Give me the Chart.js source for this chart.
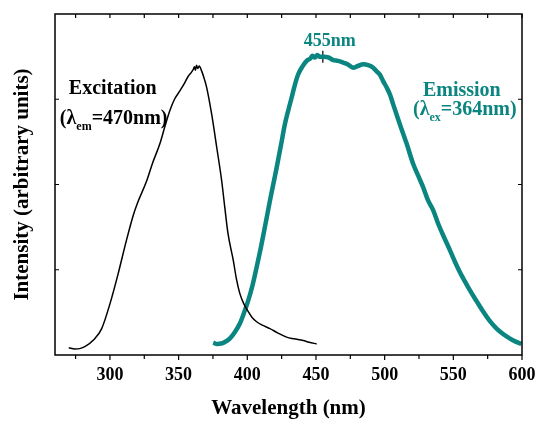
<!DOCTYPE html>
<html lang="en">
<head>
    <meta charset="UTF-8">
    <title>Excitation / Emission spectra</title>
    <script src="https://cdn.jsdelivr.net/npm/chart.js"></script>
    <style>
        html, body {
            margin: 0;
            padding: 0;
            background: #ffffff;
        }
        .wrap {
            width: 539px;
            height: 421px;
        }
    </style>
</head>
<body>

<div class="wrap">
    <canvas id="spectra" width="539" height="421"></canvas>
</div>

<script>
    // Excitation spectrum (black)
    const excitationNm = [270, 274.5, 278, 282, 288, 294, 300, 306, 312, 317, 320, 326.7, 331, 336.4, 340, 343.7,
        347, 351, 354, 357, 359, 360.7, 361.5, 362.3, 363, 364, 365, 366.8, 368.5, 370.4, 374, 377.7, 381.3,
        383.7, 386, 389.8, 392, 394.6, 397.5, 400.7, 403.5, 406.8, 411, 416.5, 422, 428.6, 434, 440.7, 445, 450.5];
    const excitationY = [0.085, 0.07, 0.075, 0.10, 0.175, 0.31, 0.60, 0.955, 1.345, 1.64, 1.78, 2.04, 2.25, 2.48, 2.68, 2.87,
        3.00, 3.10, 3.18, 3.27, 3.31, 3.35, 3.38, 3.34, 3.40, 3.36, 3.39, 3.33, 3.25, 3.14, 2.83, 2.44, 2.05,
        1.72, 1.42, 1.11, 0.90, 0.72, 0.60, 0.51, 0.44, 0.39, 0.35, 0.31, 0.26, 0.21, 0.19, 0.17, 0.15, 0.13];

    // Emission spectrum (teal)
    const emissionNm = [375.2, 378, 381, 384, 387.4, 391, 394.6, 397.5, 400.7, 404, 406.8, 410, 412.8, 416.5, 418.5,
        421.4, 424.5, 427.4, 430, 432.3, 434.5, 437, 440, 443.2, 446, 447.5, 449.2, 451, 452.5, 455.8, 459, 462.6,
        466, 469.8, 473, 477.1, 480.5, 484.4, 488, 491.7, 494, 496.5, 499, 501.4, 504, 506.2, 508.5, 511, 516,
        520.8, 524.5, 528, 531.7, 535.3, 539, 543, 547.5, 551, 554.8, 558.5, 562, 567, 571.7, 576.5, 581.5,
        586, 591, 595, 599.6];
    const emissionY = [0.144, 0.13, 0.135, 0.155, 0.195, 0.27, 0.37, 0.49, 0.64, 0.83, 1.03, 1.27, 1.50, 1.81, 1.97,
        2.20, 2.46, 2.71, 2.88, 3.02, 3.16, 3.29, 3.38, 3.45, 3.48, 3.51, 3.49, 3.52, 3.50, 3.50, 3.49, 3.46,
        3.45, 3.43, 3.41, 3.37, 3.39, 3.41, 3.40, 3.37, 3.33, 3.29, 3.21, 3.14, 3.05, 2.94, 2.83, 2.71, 2.48,
        2.24, 2.10, 1.97, 1.81, 1.70, 1.54, 1.39, 1.23, 1.10, 0.97, 0.86, 0.76, 0.63, 0.51, 0.40, 0.31,
        0.25, 0.195, 0.16, 0.13];

    // peak marker
    const peakNm = [455];
    const peakY = [3.50];

    const xTicksMajor = [300, 350, 400, 450, 500, 550, 600];
    const yTicks = [1, 2, 3];

    const SERIF = '"Liberation Serif", "Times New Roman", serif';
    const TEAL = '#0b8580';

    function toPoints(xs, ys) {
        return xs.map((x, i) => ({ x: x, y: ys[i] }));
    }

    // frame, tick marks and the in-plot labels
    const framePlugin = {
        id: 'frame',
        afterDatasetsDraw(chart) {
            const ctx = chart.ctx;
            const a = chart.chartArea;
            const xs = chart.scales.x;
            const ys = chart.scales.y;

            ctx.save();
            ctx.strokeStyle = '#000';
            ctx.lineWidth = 1.5;
            ctx.strokeRect(a.left, a.top, a.right - a.left, a.bottom - a.top);

            ctx.lineWidth = 1.2;
            ctx.beginPath();
            for (let v = 275; v <= 600; v += 25) {
                const px = xs.getPixelForValue(v);
                // bottom ticks point outward
                ctx.moveTo(px, a.bottom);
                ctx.lineTo(px, a.bottom + (v % 50 === 0 ? 5 : 4));
                // top ticks point inward
                ctx.moveTo(px, a.top);
                ctx.lineTo(px, a.top + 4);
            }
            yTicks.forEach(v => {
                const py = ys.getPixelForValue(v);
                ctx.moveTo(a.left, py);
                ctx.lineTo(a.left + 4, py);
                ctx.moveTo(a.right, py);
                ctx.lineTo(a.right - 4, py);
            });
            ctx.stroke();

            // text labels, anchored in data units
            function subLabel(parts, cx, baseY, color) {
                ctx.fillStyle = color;
                ctx.textBaseline = 'alphabetic';
                ctx.textAlign = 'left';
                let total = 0;
                parts.forEach(p => {
                    ctx.font = 'bold ' + p.size + 'px ' + SERIF;
                    total += ctx.measureText(p.text).width;
                });
                let x = cx - total / 2;
                parts.forEach(p => {
                    ctx.font = 'bold ' + p.size + 'px ' + SERIF;
                    ctx.fillText(p.text, x, baseY + (p.dy || 0));
                    x += ctx.measureText(p.text).width;
                });
            }

            subLabel([{ text: 'Excitation', size: 20 }],
                xs.getPixelForValue(302), ys.getPixelForValue(3.06), '#000');
            subLabel([{ text: '(\u03bb', size: 20 }, { text: 'em', size: 12, dy: 6 }, { text: '=470nm)', size: 20 }],
                xs.getPixelForValue(302.7), ys.getPixelForValue(2.71), '#000');

            subLabel([{ text: 'Emission', size: 20 }],
                xs.getPixelForValue(556.2), ys.getPixelForValue(3.04), TEAL);
            subLabel([{ text: '(\u03bb', size: 20 }, { text: 'ex', size: 12, dy: 6 }, { text: '=364nm)', size: 20 }],
                xs.getPixelForValue(558.4), ys.getPixelForValue(2.81), TEAL);

            subLabel([{ text: '455nm', size: 18 }],
                xs.getPixelForValue(460), ys.getPixelForValue(3.63), TEAL);

            ctx.restore();
        }
    };

    const ctx = document.getElementById('spectra').getContext('2d');

    new Chart(ctx, {
        type: 'line',
        data: {
            datasets: [
                {
                    label: 'Excitation',
                    data: toPoints(excitationNm, excitationY),
                    borderColor: '#000',
                    borderWidth: 1.5,
                    pointRadius: 0,
                    cubicInterpolationMode: 'monotone',
                    fill: false
                },
                {
                    label: 'Emission',
                    data: toPoints(emissionNm, emissionY),
                    borderColor: TEAL,
                    borderWidth: 4.5,
                    pointRadius: 0,
                    cubicInterpolationMode: 'monotone',
                    fill: false
                },
                {
                    label: 'peak',
                    type: 'scatter',
                    data: toPoints(peakNm, peakY),
                    pointStyle: 'cross',
                    pointRadius: 6,
                    borderColor: '#000',
                    borderWidth: 1.2
                }
            ]
        },
        options: {
            responsive: false,
            animation: false,
            layout: { padding: { top: 14, right: 17, left: 0, bottom: 0 } },
            plugins: {
                legend: { display: false },
                tooltip: { enabled: false }
            },
            scales: {
                x: {
                    type: 'linear',
                    min: 260,
                    max: 600,
                    grid: { display: false, drawTicks: false },
                    border: { display: false },
                    afterBuildTicks: scale => {
                        scale.ticks = xTicksMajor.map(v => ({ value: v }));
                    },
                    afterFit: scale => {
                        scale.height = 66;
                        // let the last label hang into the right margin
                        scale.paddingLeft = 0;
                        scale.paddingRight = 0;
                    },
                    ticks: {
                        autoSkip: false,
                        maxRotation: 0,
                        padding: 10,
                        color: '#000',
                        font: { family: SERIF, size: 18, weight: 'bold' }
                    },
                    title: {
                        display: true,
                        text: 'Wavelength (nm)',
                        color: '#000',
                        padding: { top: 0, bottom: 0 },
                        font: { family: SERIF, size: 21, weight: 'bold' }
                    }
                },
                y: {
                    min: 0,
                    max: 4,
                    grid: { display: false, drawTicks: false },
                    border: { display: false },
                    ticks: { display: false },
                    afterFit: scale => { scale.width = 55; },
                    title: {
                        display: true,
                        text: 'Intensity (arbitrary units)',
                        color: '#000',
                        padding: { top: 10, bottom: 0 },
                        font: { family: SERIF, size: 21, weight: 'bold' }
                    }
                }
            }
        },
        plugins: [framePlugin]
    });
</script>

</body>
</html>
